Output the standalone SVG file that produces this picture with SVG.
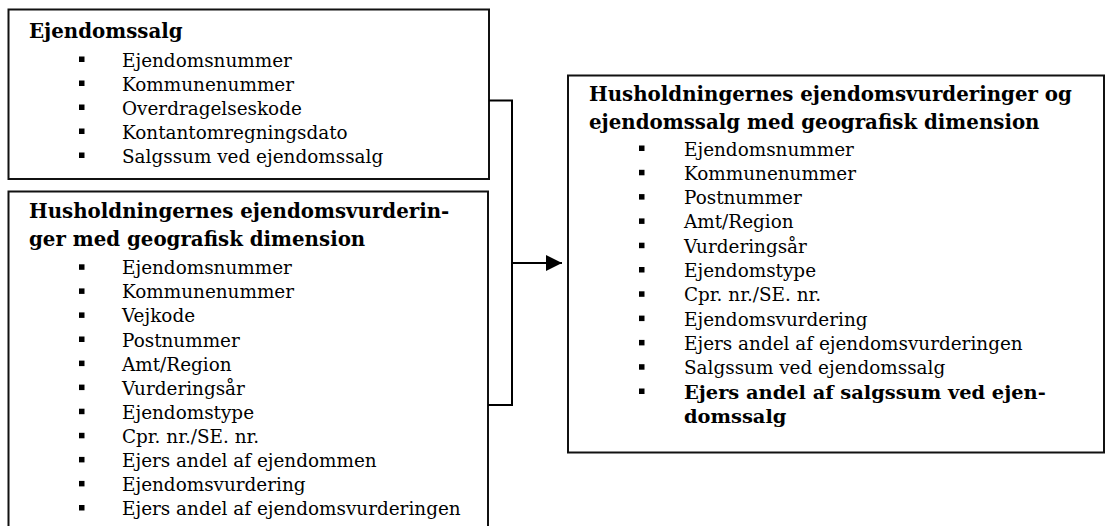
<svg xmlns="http://www.w3.org/2000/svg" width="1106" height="526" viewBox="0 0 1106 526">
  <defs>
    <style>
      .box { fill: #ffffff; stroke: #111111; stroke-width: 2; }
      .title { font-family: "DejaVu Serif", "Liberation Serif", serif; font-size: 19.8px; font-weight: bold; fill: #000000; }
      .item { font-family: "DejaVu Serif", "Liberation Serif", serif; font-size: 18.4px; fill: #000000; }
      .itemb { font-family: "DejaVu Serif", "Liberation Serif", serif; font-size: 19.4px; font-weight: bold; fill: #000000; }
      .bul { fill: #000000; }
      .wire { fill: none; stroke: #000000; stroke-width: 2; }
    </style>
    <marker id="arrow" markerUnits="userSpaceOnUse" markerWidth="16" markerHeight="16" refX="16" refY="8" orient="auto">
      <path d="M0,0 L16,8 L0,16 Z" fill="#000000"/>
    </marker>
    <rect id="sq" width="5.5" height="5.5" class="bul"/>
  </defs>

  <!-- sales source table -->
  <g id="ejendomssalg">
    <rect class="box" x="8.5" y="9.5" width="480.5" height="169.5"/>
    <text class="title" x="29" y="37.5">Ejendomssalg</text>
    <use href="#sq" x="79" y="56.5"/>
    <text class="item" x="122" y="66.5">Ejendomsnummer</text>
    <use href="#sq" x="79" y="80.5"/>
    <text class="item" x="122" y="90.5">Kommunenummer</text>
    <use href="#sq" x="79" y="104.5"/>
    <text class="item" x="122" y="114.5">Overdragelseskode</text>
    <use href="#sq" x="79" y="128.5"/>
    <text class="item" x="122" y="138.5">Kontantomregningsdato</text>
    <use href="#sq" x="79" y="152.5"/>
    <text class="item" x="122" y="162.5">Salgssum ved ejendomssalg</text>
  </g>

  <!-- valuation source table -->
  <g id="vurderinger">
    <rect class="box" x="8.5" y="191.5" width="479.5" height="350"/>
    <text class="title" x="29" y="217.5">Husholdningernes ejendomsvurderin-</text>
    <text class="title" x="29" y="245.5">ger med geografisk dimension</text>
    <use href="#sq" x="79" y="264.3"/>
    <text class="item" x="122" y="274.3">Ejendomsnummer</text>
    <use href="#sq" x="79" y="288.4"/>
    <text class="item" x="122" y="298.4">Kommunenummer</text>
    <use href="#sq" x="79" y="312.4"/>
    <text class="item" x="122" y="322.4">Vejkode</text>
    <use href="#sq" x="79" y="336.5"/>
    <text class="item" x="122" y="346.5">Postnummer</text>
    <use href="#sq" x="79" y="360.6"/>
    <text class="item" x="122" y="370.6">Amt/Region</text>
    <use href="#sq" x="79" y="384.6"/>
    <text class="item" x="122" y="394.6">Vurderingsår</text>
    <use href="#sq" x="79" y="408.7"/>
    <text class="item" x="122" y="418.7">Ejendomstype</text>
    <use href="#sq" x="79" y="432.8"/>
    <text class="item" x="122" y="442.8">Cpr. nr./SE. nr.</text>
    <use href="#sq" x="79" y="456.9"/>
    <text class="item" x="122" y="466.9">Ejers andel af ejendommen</text>
    <use href="#sq" x="79" y="480.9"/>
    <text class="item" x="122" y="490.9">Ejendomsvurdering</text>
    <use href="#sq" x="79" y="505"/>
    <text class="item" x="122" y="515">Ejers andel af ejendomsvurderingen</text>
  </g>

  <!-- combined result table -->
  <g id="samlet">
    <rect class="box" x="568" y="75.5" width="536" height="377"/>
    <text class="title" x="589" y="100.5">Husholdningernes ejendomsvurderinger og</text>
    <text class="title" x="589" y="128.5">ejendomssalg med geografisk dimension</text>
    <use href="#sq" x="639" y="145.5"/>
    <text class="item" x="684" y="155.5">Ejendomsnummer</text>
    <use href="#sq" x="639" y="169.8"/>
    <text class="item" x="684" y="179.8">Kommunenummer</text>
    <use href="#sq" x="639" y="194.1"/>
    <text class="item" x="684" y="204.1">Postnummer</text>
    <use href="#sq" x="639" y="218.4"/>
    <text class="item" x="684" y="228.4">Amt/Region</text>
    <use href="#sq" x="639" y="242.7"/>
    <text class="item" x="684" y="252.7">Vurderingsår</text>
    <use href="#sq" x="639" y="267"/>
    <text class="item" x="684" y="277">Ejendomstype</text>
    <use href="#sq" x="639" y="291.3"/>
    <text class="item" x="684" y="301.3">Cpr. nr./SE. nr.</text>
    <use href="#sq" x="639" y="315.6"/>
    <text class="item" x="684" y="325.6">Ejendomsvurdering</text>
    <use href="#sq" x="639" y="339.9"/>
    <text class="item" x="684" y="349.9">Ejers andel af ejendomsvurderingen</text>
    <use href="#sq" x="639" y="364.2"/>
    <text class="item" x="684" y="374.2">Salgssum ved ejendomssalg</text>
    <use href="#sq" x="639" y="388.5"/>
    <text class="itemb" x="684" y="398.5">Ejers andel af salgssum ved ejen-</text>
    <text class="itemb" x="684" y="422.8">domssalg</text>
  </g>

  <!-- bracket joining both sources, arrow into the result -->
  <g id="connectors">
    <polyline class="wire" points="489,100.5 512,100.5 512,405"/>
    <line class="wire" x1="488" y1="405" x2="513" y2="405" stroke-width="3"/>
    <line class="wire" x1="512" y1="263" x2="562" y2="263" stroke-width="1.6" marker-end="url(#arrow)"/>
  </g>
</svg>
